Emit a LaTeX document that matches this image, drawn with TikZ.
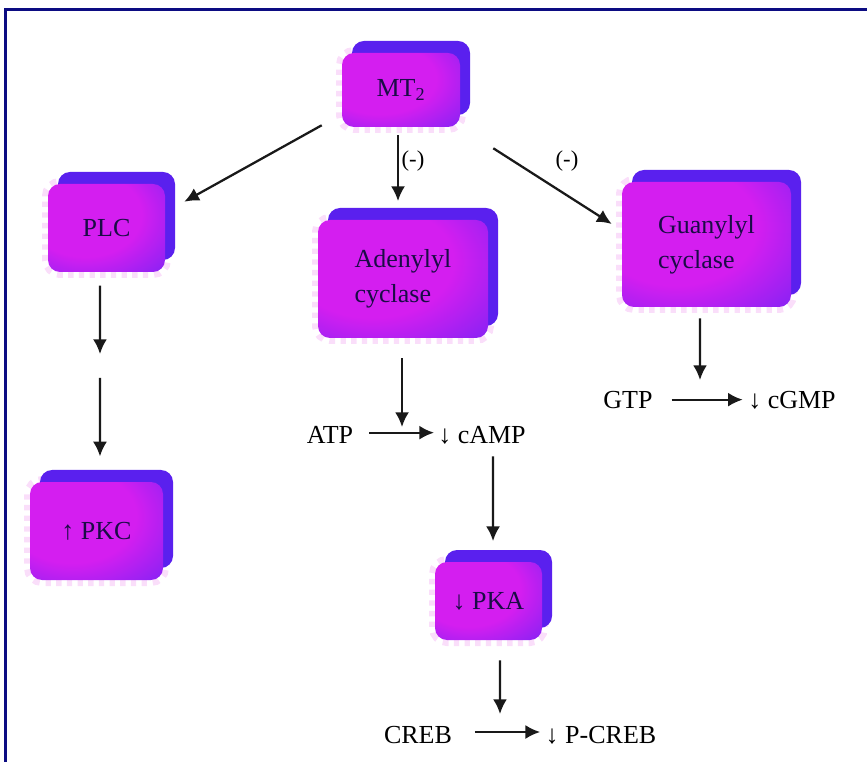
\documentclass[tikz,border=0pt]{standalone}
\usepackage{fontspec}
\setmainfont{Liberation Serif}
\usetikzlibrary{arrows.meta,shadows}
\definecolor{boxmag}{RGB}{212,30,240}
\definecolor{boxblu}{RGB}{98,36,245}
\definecolor{backblu}{RGB}{90,32,238}
\definecolor{frameblu}{RGB}{12,12,130}
\definecolor{labtxt}{RGB}{26,12,70}
\definecolor{halo}{RGB}{250,222,250}
\pgfdeclareradialshading{boxshade}{\pgfpoint{-12bp}{10bp}}{color(0bp)=(boxmag); color(24bp)=(boxmag); color(54bp)=(boxblu); color(100bp)=(boxblu)}
\begin{document}
\begin{tikzpicture}[x=0.75pt,y=-0.75pt,
  box/.style={rounded corners=9pt, shade, shading=boxshade, draw=none, text=labtxt,
     font=\fontsize{19.5}{26}\selectfont, align=left, inner sep=0pt,
     preaction={draw=halo, line width=9pt, dash pattern=on 4pt off 4pt},
     copy shadow={shadow xshift=7.5pt, shadow yshift=9pt, fill=backblu, draw=none}},
  lab/.style={font=\fontsize{19.5}{26}\selectfont, text=black, inner sep=0pt,
     text height=0.7em, text depth=0.2em, anchor=base},
  minus/.style={font=\fontsize{17}{20}\selectfont, text=black, inner sep=0pt, anchor=base},
  arr/.style={draw=black!90, line width=1.7pt, -{Latex[length=11pt,width=10.5pt]}}
]
\useasboundingbox (0,0) rectangle (867,762);
% frame
\draw[frameblu, line width=2.7pt] (5.5,762) -- (5.5,9.5) -- (867,9.5);

% boxes
\node[box, minimum width=88.5pt, minimum height=55.5pt] (mt) at (401,90) {MT\textsubscript{2}};
\node[box, minimum width=87.75pt, minimum height=66pt] (plc) at (106.5,228) {PLC};
\node[box, minimum width=127.5pt, minimum height=88.5pt] (ade) at (403,279) {Adenylyl\\cyclase};
\node[box, minimum width=126.75pt, minimum height=93.75pt] (gua) at (706.5,244.5) {Guanylyl\\cyclase};
\node[box, minimum width=99.75pt, minimum height=73.5pt] (pkc) at (96.5,531) {↑ PKC};
\node[box, minimum width=80.25pt, minimum height=58.5pt] (pka) at (488.5,601) {↓ PKA};

% text labels
\node[lab] (atp) at (330,444) {ATP};
\node[lab] (camp) at (482,444) {↓ cAMP};
\node[lab] (gtp) at (628,409) {GTP};
\node[lab] (cgmp) at (792,409) {↓ cGMP};
\node[lab] (creb) at (418,743) {CREB};
\node[lab] (pcreb) at (601,743) {↓ P-CREB};
\node[minus] (m1) at (413,167) {(-)};
\node[minus] (m2) at (567,167) {(-)};

% free ends
\coordinate (p1) at (100,354);
\coordinate (p2) at (100,378);
\coordinate (a1) at (402,427);
\coordinate (g1) at (700,380);
\coordinate (k1) at (500,714);

% connectors
\draw[arr] ([xshift=-15pt,yshift=1.5pt]mt.south west) -- ([xshift=14.25pt,yshift=-13.5pt]plc.north east);
\draw[arr] ([xshift=-2.25pt,yshift=-6pt]mt.south) -- ([xshift=-3.75pt,yshift=14pt]ade.north);
\draw[arr] ([xshift=24.75pt,yshift=-15.75pt]mt.south east) -- ([xshift=-7.5pt,yshift=15.4pt]gua.west);
\draw[arr] ([xshift=-4.9pt,yshift=-10pt]plc.south) -- (p1);
\draw[arr] (p2) -- ([xshift=2.6pt,yshift=19pt]pkc.north);
\draw[arr] ([xshift=-0.75pt,yshift=-15pt]ade.south) -- (a1);
\draw[arr] ([xshift=-4.9pt,yshift=-8.25pt]gua.south) -- (g1);
\draw[arr] ([xshift=8.25pt,yshift=-7pt]camp.south) -- ([xshift=3.4pt,yshift=15.5pt]pka.north);
\draw[arr] ([xshift=8.6pt,yshift=-15pt]pka.south) -- (k1);
\draw[arr, shorten <=12pt, shorten >=3pt] ([yshift=8.5pt]atp.base east) -- ([yshift=8.5pt]camp.base west);
\draw[arr, shorten <=14pt, shorten >=4pt] ([yshift=7pt]gtp.base east) -- ([yshift=7pt]cgmp.base west);
\draw[arr, shorten <=17pt, shorten >=4pt] ([yshift=8.25pt]creb.base east) -- ([yshift=8.25pt]pcreb.base west);
\end{tikzpicture}
\end{document}
